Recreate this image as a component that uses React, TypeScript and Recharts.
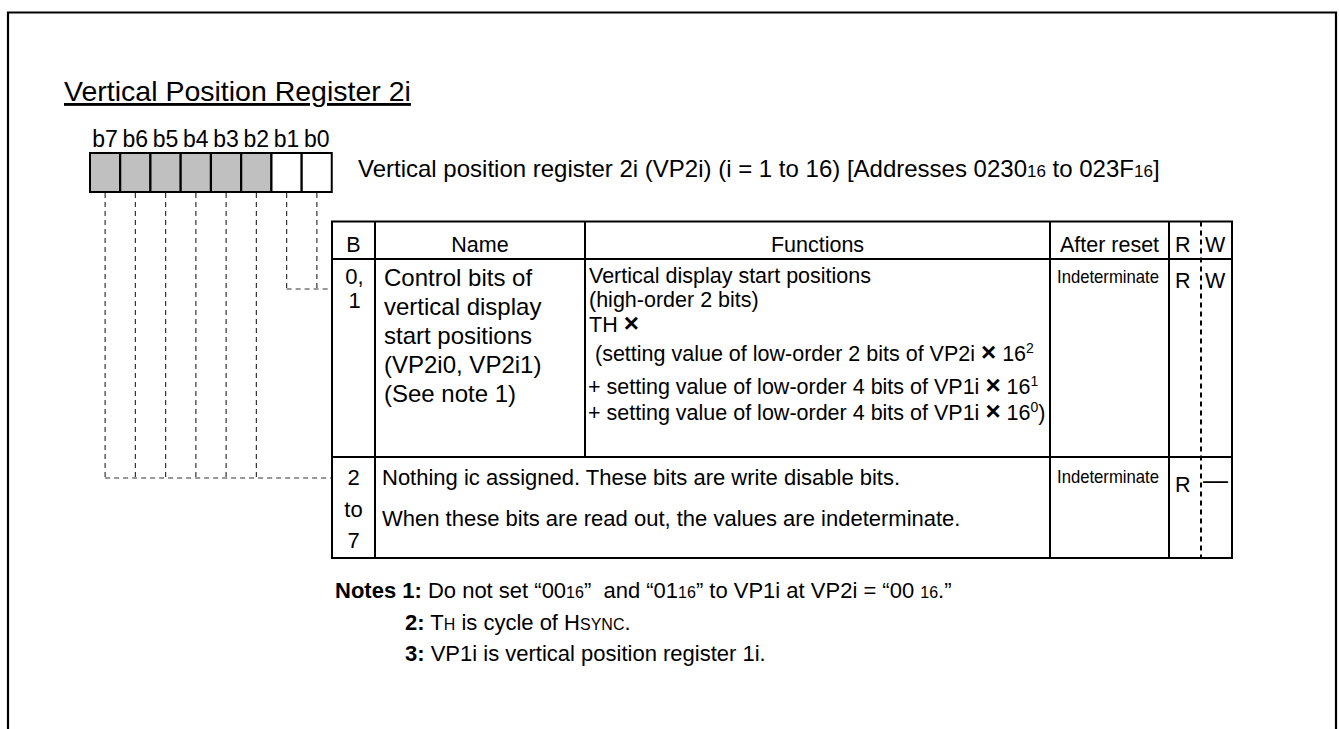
import React from 'react';
import { ComposedChart, Bar, Cell, XAxis, YAxis, Customized } from 'recharts';

// ---------- data ----------
const bitLabels = ['b7', 'b6', 'b5', 'b4', 'b3', 'b2', 'b1', 'b0'];
const bitReserved = [true, true, true, true, true, true, false, false];
const bitCellHeight = [1, 1, 1, 1, 1, 1, 1, 1];

const titleText = 'Vertical Position Register 2i';

type Seg = { t: string; s?: number; b?: boolean; up?: number };

const registerCaption: Seg[] = [
  { t: 'Vertical position register 2i (VP2i) (i = 1 to 16) [Addresses 0230' },
  { t: '16', s: 17 },
  { t: ' to 023F' },
  { t: '16', s: 17 },
  { t: ']' },
];

const tableHeaders = ['B', 'Name', 'Functions', 'After reset', 'R', 'W'];

const row1Bits = ['0,', '1'];
const row1Name = [
  'Control bits of',
  'vertical display',
  'start positions',
  '(VP2i0, VP2i1)',
  '(See note 1)',
];
const row1Functions: Seg[][] = [
  [{ t: 'Vertical display start positions' }],
  [{ t: '(high-order 2 bits)' }],
  [{ t: 'TH ' }, { t: '×', b: true, s: 26 }],
  [
    { t: '(setting value of low-order 2 bits of VP2i ' },
    { t: '×', b: true, s: 26 },
    { t: ' 16' },
    { t: '2', s: 14, up: 8 },
  ],
  [
    { t: '+ setting value of low-order 4 bits of VP1i ' },
    { t: '×', b: true, s: 26 },
    { t: ' 16' },
    { t: '1', s: 14, up: 8 },
  ],
  [
    { t: '+ setting value of low-order 4 bits of VP1i ' },
    { t: '×', b: true, s: 26 },
    { t: ' 16' },
    { t: '0', s: 14, up: 8 },
    { t: ')' },
  ],
];
const row1Reset = 'Indeterminate';
const row1R = 'R';
const row1W = 'W';

const row2Bits = ['2', 'to', '7'];
const row2Text = [
  'Nothing ic assigned. These bits are write disable bits.',
  'When these bits are read out, the values are indeterminate.',
];
const row2Reset = 'Indeterminate';
const row2R = 'R';
const row2W = '—';

const notes: Seg[][] = [
  [
    { t: 'Notes 1:', b: true },
    { t: ' Do not set “00' },
    { t: '16', s: 16 },
    { t: '”  and “01' },
    { t: '16', s: 16 },
    { t: '” to VP1i at VP2i = “00 ' },
    { t: '16', s: 16 },
    { t: '.”' },
  ],
  [
    { t: '2:', b: true },
    { t: ' T' },
    { t: 'H', s: 16 },
    { t: ' is cycle of H' },
    { t: 'SYNC', s: 16 },
    { t: '.' },
  ],
  [{ t: '3:', b: true }, { t: ' VP1i is vertical position register 1i.' }],
];

const bitData = bitLabels.map((bit, i) => ({
  bit,
  h: bitCellHeight[i],
  reserved: bitReserved[i],
}));

// ---------- layout ----------
const W = 1339;
const H = 729;
const FONT = '"Liberation Sans", Arial, Helvetica, sans-serif';
const REG_L = 90;
const REG_R = 332;
const REG_T = 153;
const REG_B = 192;
const AXIS_H = 30;

const colX = [332, 375, 585, 1050, 1169, 1232];
const rwDivX = 1201;
const rowY = [221.5, 259, 457, 558];

function SegText({ x, y, segs, size, anchor }: { x: number; y: number; segs: Seg[]; size: number; anchor?: string }) {
  let shift = 0;
  return (
    <text x={x} y={y} fontSize={size} fontFamily={FONT} fill="#000" textAnchor={anchor || 'start'} style={{ whiteSpace: 'pre' }}>
      {segs.map((sg, i) => {
        const target = sg.up || 0;
        const dy = shift - target;
        shift = target;
        return (
          <tspan key={i} dy={dy !== 0 ? dy : undefined} fontSize={sg.s || size} fontWeight={sg.b ? 'bold' : 'normal'}>
            {sg.t}
          </tspan>
        );
      })}
    </text>
  );
}

function Txt({ x, y, size, children, anchor, bold, len }: any) {
  return (
    <text
      x={x}
      y={y}
      fontSize={size}
      fontFamily={FONT}
      fill="#000"
      textAnchor={anchor || 'start'}
      fontWeight={bold ? 'bold' : 'normal'}
      style={{ whiteSpace: 'pre' }}
      textLength={len}
      lengthAdjust={len ? 'spacingAndGlyphs' : undefined}
    >
      {children}
    </text>
  );
}

function Diagram() {
  const bandW = (REG_R - REG_L) / bitLabels.length;
  const leaderX = bitLabels.map((_, i) => REG_L + (i + 0.5) * bandW);
  const dash = { stroke: '#333', strokeWidth: 1.2, strokeDasharray: '5 4', fill: 'none' };
  const line = { stroke: '#000', strokeWidth: 2, fill: 'none' };
  const row1Y = 289;
  const row2Y = 478;

  const fnBase = [283, 307, 332, 361, 394, 420];
  const fnX = [589, 589, 589, 595, 588, 588];
  const nameBase = [286, 315, 344, 373, 402];
  const notesBase = [598, 630, 661];

  return (
    <g>
      {/* frame */}
      <path d={`M8,${H} L8,12.5 L1336,12.5 L1336,${H}`} stroke="#000" strokeWidth={2.2} fill="none" />

      {/* title */}
      <text x={64} y={101} fontSize={28.5} fontFamily={FONT} fill="#000" style={{ textDecoration: 'underline' }}>
        {titleText}
      </text>

      {/* register caption */}
      <SegText x={358} y={177} segs={registerCaption} size={24} />

      {/* leaders */}
      {leaderX.map((x, i) => (
        <line key={i} x1={x} y1={REG_B + 1} x2={x} y2={bitReserved[i] ? row2Y : row1Y} {...dash} />
      ))}
      <line x1={leaderX[6]} y1={row1Y} x2={colX[0]} y2={row1Y} {...dash} />
      <line x1={leaderX[0]} y1={row2Y} x2={colX[0]} y2={row2Y} {...dash} />

      {/* table grid */}
      <rect x={colX[0]} y={rowY[0]} width={colX[5] - colX[0]} height={rowY[3] - rowY[0]} {...line} />
      <line x1={colX[0]} y1={rowY[1]} x2={colX[5]} y2={rowY[1]} {...line} />
      <line x1={colX[0]} y1={rowY[2]} x2={colX[5]} y2={rowY[2]} {...line} />
      <line x1={colX[1]} y1={rowY[0]} x2={colX[1]} y2={rowY[3]} {...line} />
      <line x1={colX[2]} y1={rowY[0]} x2={colX[2]} y2={rowY[2]} {...line} />
      <line x1={colX[3]} y1={rowY[0]} x2={colX[3]} y2={rowY[3]} {...line} />
      <line x1={colX[4]} y1={rowY[0]} x2={colX[4]} y2={rowY[3]} {...line} />
      <line x1={rwDivX} y1={rowY[0]} x2={rwDivX} y2={rowY[3]} stroke="#000" strokeWidth={2} strokeDasharray="5 4" />

      {/* headers */}
      <Txt x={(colX[0] + colX[1]) / 2} y={252} size={21.5} anchor="middle">{tableHeaders[0]}</Txt>
      <Txt x={(colX[1] + colX[2]) / 2} y={252} size={21.5} anchor="middle">{tableHeaders[1]}</Txt>
      <Txt x={(colX[2] + colX[3]) / 2} y={252} size={21.5} anchor="middle">{tableHeaders[2]}</Txt>
      <Txt x={(colX[3] + colX[4]) / 2} y={252} size={21.5} anchor="middle">{tableHeaders[3]}</Txt>
      <Txt x={1175} y={252} size={21.5}>{tableHeaders[4]}</Txt>
      <Txt x={1205} y={252} size={21.5}>{tableHeaders[5]}</Txt>

      {/* row 1 */}
      {row1Bits.map((t, i) => (
        <Txt key={i} x={354.5} y={284 + i * 24} size={22} anchor="middle">{t}</Txt>
      ))}
      {row1Name.map((t, i) => (
        <Txt key={i} x={384} y={nameBase[i]} size={24}>{t}</Txt>
      ))}
      {row1Functions.map((segs, i) => (
        <SegText key={i} x={fnX[i]} y={fnBase[i]} segs={segs} size={21.5} />
      ))}
      <Txt x={1057} y={283} size={19} len={102}>{row1Reset}</Txt>
      <Txt x={1175} y={288} size={21.5}>{row1R}</Txt>
      <Txt x={1205} y={288} size={21.5}>{row1W}</Txt>

      {/* row 2 */}
      {row2Bits.map((t, i) => (
        <Txt key={i} x={353.5} y={485 + i * 31.7} size={22} anchor="middle">{t}</Txt>
      ))}
      {row2Text.map((t, i) => (
        <Txt key={i} x={382} y={485 + i * 41} size={22}>{t}</Txt>
      ))}
      <Txt x={1057} y={483} size={19} len={102}>{row2Reset}</Txt>
      <Txt x={1175} y={492} size={21.5}>{row2R}</Txt>
      <Txt x={1203} y={489} size={25}>{row2W}</Txt>

      {/* notes */}
      <SegText x={335} y={notesBase[0]} segs={notes[0]} size={22} />
      <SegText x={405} y={notesBase[1]} segs={notes[1]} size={22} />
      <SegText x={405} y={notesBase[2]} segs={notes[2]} size={22} />
    </g>
  );
}

export default function App() {
  return (
    <div style={{ position: 'absolute', left: 0, top: 0, width: W, height: H, background: '#fff' }}>
      <ComposedChart
        width={W}
        height={H}
        data={bitData}
        barCategoryGap={0}
        margin={{ top: REG_T - AXIS_H, right: W - REG_R, bottom: H - REG_B, left: REG_L }}
      >
        <XAxis
          dataKey="bit"
          orientation="top"
          height={AXIS_H}
          axisLine={false}
          tickLine={false}
          tickSize={6}
          tickMargin={0}
          interval={0}
          tick={{ fill: '#000', fontSize: 23, fontFamily: FONT }}
        />
        <YAxis hide domain={[0, 1]} />
        <Bar dataKey="h" isAnimationActive={false} stroke="#000" strokeWidth={2}>
          {bitData.map((d, i) => (
            <Cell key={i} fill={d.reserved ? '#c0c0c0' : '#ffffff'} />
          ))}
        </Bar>
        <Customized component={Diagram} />
      </ComposedChart>
    </div>
  );
}
